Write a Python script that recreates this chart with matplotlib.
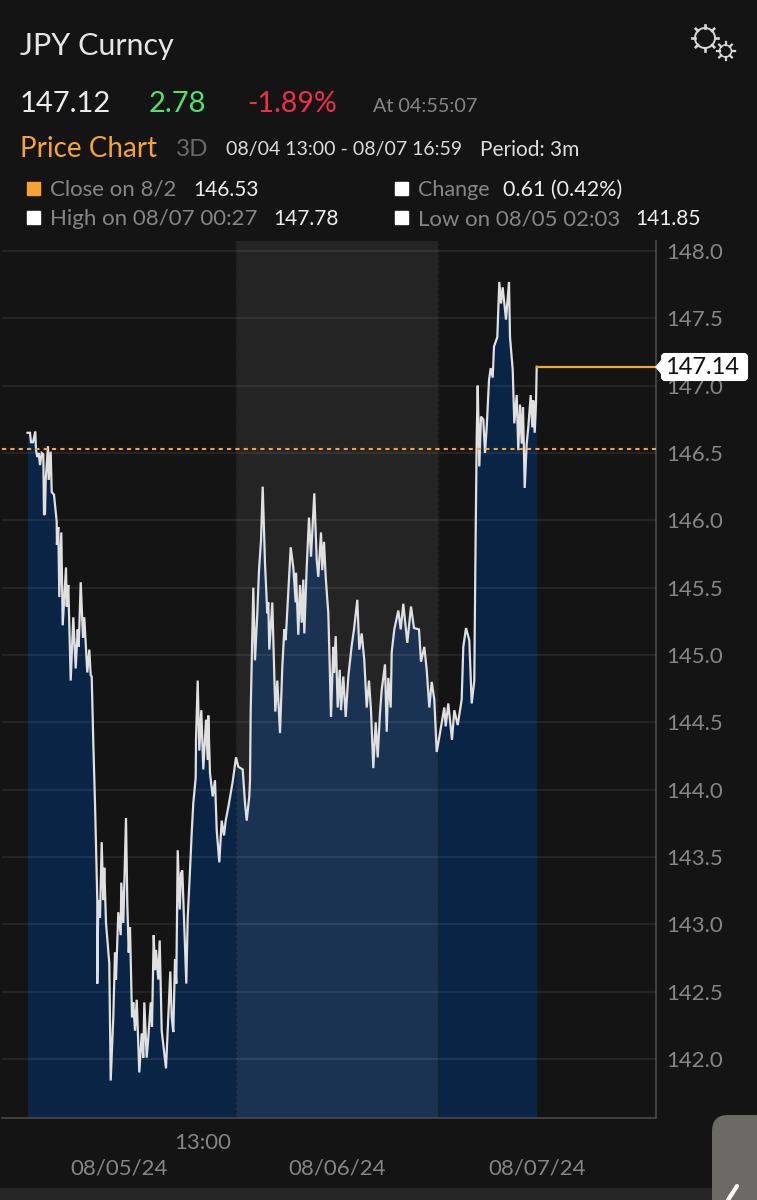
import numpy as np
import matplotlib.pyplot as plt
from matplotlib.patches import Rectangle, Circle, FancyBboxPatch

# elapsed = chart steps since 08/04 13:00 (about 9 min each)
elapsed = [0.5,3,4,6,8.3,9,10.3,11.7,13,14.7,16.3,17,18,18.7,21,21.7,23.7,24.7,27,29.7,29.9,31.3,32.3,34.3,35.7,39,39.7,41.3,43.7,46.3,
    48.7,50.7,51.7,53.7,56,57.3,59,60.3,62.3,63.7,64.7,66.3,68,69,70.3,70.3,71.3,73,74.7,76.3,77.3,79,82.3,83.7,86.3,88,89,91.3,93.7,94.3,
    96.3,99,100.3,101.7,103,105,106.3,108,109.7,112.3,114.7,116.3,117.3,119.7,121.3,123.7,125,126.7,128,129,131.3,132.7,134.7,139,141.3,143.3,144.7,146.3,148,149.3,
    150.7,152.7,154,155.3,157,159.3,160.7,163,164.7,166.3,168.7,169,170.7,172.3,174.3,176.3,179,180.7,181.3,183,185.7,188,189.7,192.3,194.7,197,198.7,201.3,205.7,209,
    211.3,215.7,218,219.7,222.3,223,223.7,226.3,228,230.3,232,234,235.7,238,240.3,241.3,242.3,245.3,248.3,250.3,253,255.3,257.3,258.7,260.7,263.7,266.3,268.7,269,271.3,
    273,274.7,276.3,277.3,279.7,282,284,287.3,289.7,291.3,294,295.3,297,298.7,301.3,302.3,304,306.3,307,308.7,310.7,312.7,314,316.3,318.7,321.3,324.7,327,330.3,332.3,
    334.7,337.3,339.7,342,344,346.3,348.7,350.7,353,354.7,358,359.7,361.3,363.7,364.7,367.3,371.3,373.7,376.3,380.3,384,387,392,394,397.3,399.7,402.3,404.7,407.3,409.7,
    412.3,417.3,418.7,421.3,425,427.3,430.7,434.7,436.3,439,442.3,444.7,447.3,448.3,449.7,450.7,452.3,454,456.3,458,459.7,462,463.7,465.7,467,470.3,472.3,474,475.7,479,
    482,483,485.7,487.3,489.7,491.3,493,494.7,496,497.7,499.7,501.3,503.7,505.3,506.3,507.7,509,509.7]

price = [146.65,146.65,146.58,146.58,146.66,146.52,146.47,146.50,146.41,146.50,146.49,146.04,146.05,146.30,146.55,146.30,146.51,146.21,146.19,145.99,145.82,145.95,145.43,145.91,145.22,145.65,145.36,145.52,144.81,145.28,
    144.90,145.19,145.06,145.54,145.13,145.28,145.04,144.87,145.04,144.85,144.84,144.35,143.90,143.60,143.18,142.56,143.18,143.05,143.61,143.18,143.42,143.01,142.71,141.84,142.31,142.79,142.59,143.09,142.92,143.31,
    143.01,143.79,143.16,142.79,142.98,142.31,142.42,142.21,142.44,141.90,142.19,142.01,142.42,142.01,142.16,142.42,142.24,142.92,142.66,142.81,142.59,142.88,142.21,141.93,142.31,142.65,142.31,142.20,142.74,142.56,
    143.55,143.11,143.38,143.40,143.05,142.56,143.05,143.40,143.68,143.90,144.09,144.37,144.81,144.29,144.59,144.15,144.52,144.22,144.55,144.12,143.95,144.07,143.70,143.46,143.77,143.66,143.77,143.87,144.06,144.24,
    144.17,144.15,143.90,143.77,143.95,144.07,144.59,145.50,144.96,145.31,145.63,145.85,146.25,145.68,145.31,145.39,145.04,145.39,144.58,144.81,144.42,144.91,145.19,145.11,145.39,145.80,145.65,145.39,145.61,145.15,
    145.52,145.24,145.56,145.16,145.65,146.02,145.73,146.20,145.71,145.58,145.91,145.63,145.84,145.58,145.31,145.04,144.54,145.06,144.87,145.14,144.61,144.89,144.59,144.84,144.54,144.84,145.07,145.19,145.41,145.04,
    145.16,144.96,144.61,144.81,144.59,144.16,144.50,144.24,144.57,144.74,144.93,144.43,144.83,144.61,145.02,145.19,145.33,145.19,145.38,145.09,145.36,145.20,145.19,144.95,145.06,144.89,144.61,144.80,144.67,144.28,
    144.39,144.61,144.47,144.64,144.37,144.59,144.48,144.67,145.06,145.20,145.11,144.64,144.81,145.63,146.62,147.00,146.40,146.77,146.75,146.50,146.69,147.04,147.13,147.06,147.29,147.36,147.77,147.61,147.73,147.49,
    147.77,147.36,147.12,146.72,146.93,146.52,146.86,146.57,146.84,146.24,146.57,146.69,146.93,146.69,146.89,146.65,146.87,147.14]

y_ticks = [142.0,142.5,143.0,143.5,144.0,144.5,145.0,145.5,146.0,146.5,147.0,147.5,148.0]
date_ticks = [92,310,510]
date_labels = ["08/05/24","08/06/24","08/07/24"]
hour_ticks = [176]
hour_labels = ["13:00"]
band_start = 209
band_end = 411
prev_close = 146.53
last_price = 147.14

BG = "#141414"
GREY = "#868686"
ORANGE = "#f6a334"
FONT = "Lato"

plt.rcParams['font.family'] = [FONT, 'DejaVu Sans']

fig = plt.figure(figsize=(7.57,12.0),dpi=100,facecolor=BG)

# main chart, placed by the pixel box of the reference
ax = fig.add_axes([2/757,1-1118/1200,654/757,877/1200],facecolor=BG)
ax.set_xlim(-25,629)
ax.set_ylim(141.562,148.074)

ax.fill_between(elapsed,price,141.562,color="#0a2446",lw=0,zorder=1)
ax.axvspan(band_start,band_end,color="white",alpha=0.07,lw=0,zorder=2)
for b in [band_start,band_end]:
    ax.axvline(b,color="#1f1f1f",lw=1,ls=(0,(2,2)),zorder=2)
for v in y_ticks:
    ax.axhline(v,color="#ffffff",alpha=0.09,lw=1.1,zorder=3)
ax.plot(elapsed,price,color="#e0e0e0",lw=1.6,zorder=4,solid_joinstyle="miter")

ax.axhline(prev_close,color=ORANGE,lw=1.5,ls=(0,(2,2)),zorder=5)
ax.plot([elapsed[-1],629],[last_price,last_price],color=ORANGE,lw=1.6,zorder=5)

for s in ["top","left"]:
    ax.spines[s].set_visible(False)
for s in ["right","bottom"]:
    ax.spines[s].set_color("#4a4a4a")
    ax.spines[s].set_linewidth(1.2)

ax.yaxis.tick_right()
ax.set_yticks(y_ticks)
ax.set_yticklabels(["%.1f" % v for v in y_ticks])
ax.tick_params(axis="y",length=0,pad=7,labelsize=16,labelcolor=GREY)
ax.set_xticks(date_ticks)
ax.set_xticklabels(date_labels)
ax.set_xticks(hour_ticks,minor=True)
ax.set_xticklabels(hour_labels,minor=True)
ax.tick_params(axis="x",which="major",length=0,pad=29,labelsize=16,labelcolor=GREY)
ax.tick_params(axis="x",which="minor",length=0,pad=11,labelsize=16,labelcolor=GREY)

# overlay in pixel coordinates for header, tag and phone corner
ov = fig.add_axes([0,0,1,1],facecolor="none")
ov.set_xlim(0,757)
ov.set_ylim(1200,0)
ov.axis("off")

def label(x,y,s,color="white",size=14,**kw):
    ov.text(x,y,s,color=color,fontsize=size,va="center",ha="left",**kw)

label(20,46,"JPY Curncy","#e6e6e6",22)
label(20,104,"147.12","#ececec",21)
label(149,104,"2.78","#4fe36c",21)
label(247,104,"-1.89%","#ee2f4b",20.5)
label(373,107,"At 04:55:07",GREY,14.2)
label(20,149,"Price Chart",ORANGE,20)
label(176,149,"3D","#6a6a6a",17.5)
label(226,150,"08/04 13:00 - 08/07 16:59","#dcdcdc",14)
label(480,150,"Period: 3m","#dcdcdc",15)

ov.add_patch(Rectangle((27,182),13,13,color=ORANGE))
label(50,190,"Close on 8/2",GREY,16)
label(193,190,"146.53","#eeeeee",15)
ov.add_patch(Rectangle((395,182),13,13,color="white"))
label(418,190,"Change",GREY,15.5)
label(503,190,"0.61 (0.42%)","#eeeeee",15.5)
ov.add_patch(Rectangle((27,211),13,13,color="white"))
label(50,219,"High on 08/07 00:27",GREY,16)
label(273,219,"147.78","#eeeeee",15)
ov.add_patch(Rectangle((395,211),13,13,color="white"))
label(418,219,"Low on 08/05 02:03",GREY,16)
label(635,219,"141.85","#eeeeee",15)

# gears
for cx,cy,r,w in [(705,38,10,1.4),(725.5,51,6,1.1)]:
    ov.add_patch(Circle((cx,cy),r,fill=False,ec="#d8d8d8",lw=w))
    for a in np.arange(0,2*np.pi,np.pi/4):
        ov.plot([cx+r*np.cos(a),cx+(r+3)*np.cos(a)],[cy+r*np.sin(a),cy+(r+3)*np.sin(a)],color="#d8d8d8",lw=w+0.5)

# last price tag
ov.add_patch(FancyBboxPatch((662,354),85,26,boxstyle="round,pad=0,rounding_size=3",fc="white",ec="white",lw=1.5,zorder=6))
ov.fill([656,666,666],[367,355,379],color="white",zorder=6)
ov.text(665,368,"%.2f" % last_price,color="#111111",fontsize=17,va="center",ha="left",zorder=7)

# bottom strip and the phone overlay in the corner
ov.add_patch(Rectangle((0,1188),757,12,color="#262626",lw=0))
ov.add_patch(FancyBboxPatch((712,1115),60,100,boxstyle="round,pad=0,rounding_size=16",fc="#6c6a66",ec="none"))
ov.plot([728,737],[1200,1186],color="white",lw=3,solid_capstyle="round")

fig.savefig("out.png",dpi=100,facecolor=BG)
